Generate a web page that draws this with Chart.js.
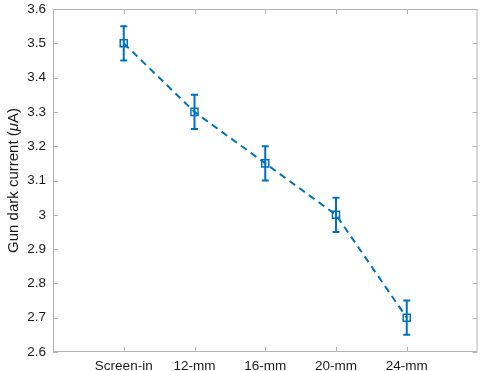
<!DOCTYPE html>
<html><head><meta charset="utf-8">
<script src="https://cdn.jsdelivr.net/npm/chart.js@4/dist/chart.umd.min.js"></script>
<style>html,body{margin:0;padding:0;background:#fff}#wrap{width:484px;height:371px}</style>
</head><body><div id="wrap"><canvas id="c" width="484" height="371"></canvas></div>
<script>
const categories = ["Screen-in", "12-mm", "16-mm", "20-mm", "24-mm"];
const currents = [3.5, 3.3, 3.15, 3.0, 2.7];
const errors = [0.05, 0.05, 0.05, 0.05, 0.05];
const yTicks = [2.6, 2.7, 2.8, 2.9, 3.0, 3.1, 3.2, 3.3, 3.4, 3.5, 3.6];
const yTitleParts = [["Gun dark current (", "normal"], ["\u03BC", "italic"], ["A)", "normal"]];

const COLOR = '#0072BD';
const FONT = '"Liberation Sans", Arial, Helvetica, sans-serif';
const TEXT = '#1a1a1a';

const points = categories.map((c, i) => ({x: i + 1, y: currents[i]}));

const framePlugin = {
  id: 'frame',
  beforeDatasetsDraw(chart) {
    const {ctx, chartArea: a, scales: {x, y}} = chart;
    ctx.save();
    ctx.strokeStyle = '#b4b4b4';
    ctx.lineWidth = 1;
    ctx.strokeRect(a.left + 0.5, a.top + 0.5, a.right - a.left - 1, a.bottom - a.top - 1);
    const L = 5;
    ctx.beginPath();
    x.ticks.forEach(t => {
      const px = Math.round(x.getPixelForValue(t.value)) + 0.5;
      ctx.moveTo(px, a.bottom); ctx.lineTo(px, a.bottom - L);
      ctx.moveTo(px, a.top); ctx.lineTo(px, a.top + L);
    });
    y.ticks.forEach(t => {
      const py = Math.round(y.getPixelForValue(t.value)) + 0.5;
      ctx.moveTo(a.left, py); ctx.lineTo(a.left + L, py);
      ctx.moveTo(a.right, py); ctx.lineTo(a.right - L, py);
    });
    ctx.stroke();
    ctx.restore();
  },
  afterDatasetsDraw(chart) {
    const {ctx, scales: {x, y}} = chart;
    ctx.save();
    ctx.strokeStyle = COLOR;
    ctx.lineWidth = 2;
    const cap = 3.5;
    points.forEach((p, i) => {
      const px = x.getPixelForValue(p.x);
      const top = y.getPixelForValue(p.y + errors[i]);
      const bot = y.getPixelForValue(p.y - errors[i]);
      ctx.beginPath();
      ctx.moveTo(px, top); ctx.lineTo(px, bot);
      ctx.moveTo(px - cap, top); ctx.lineTo(px + cap, top);
      ctx.moveTo(px - cap, bot); ctx.lineTo(px + cap, bot);
      ctx.stroke();
    });
    ctx.restore();
  },
  afterDraw(chart) {
    const {ctx, chartArea: a} = chart;
    const size = 15;
    ctx.save();
    const widths = yTitleParts.map(([t, st]) => { ctx.font = `${st} ${size}px ${FONT}`; return ctx.measureText(t).width; });
    const total = widths.reduce((s, w) => s + w, 0);
    ctx.translate(14, (a.top + a.bottom) / 2);
    ctx.rotate(-Math.PI / 2);
    ctx.fillStyle = TEXT;
    ctx.textBaseline = 'middle';
    ctx.textAlign = 'left';
    let xx = -total / 2;
    yTitleParts.forEach(([t, st], i) => { ctx.font = `${st} ${size}px ${FONT}`; ctx.fillText(t, xx, 0); xx += widths[i]; });
    ctx.restore();
  }
};

new Chart(document.getElementById('c'), {
  type: 'line',
  data: {
    datasets: [{
      data: points,
      borderColor: COLOR,
      borderWidth: 2,
      borderDash: [7, 5],
      pointStyle: 'rect',
      pointRadius: 5,
      pointBorderWidth: 1.5,
      pointBorderColor: COLOR,
      pointBackgroundColor: 'rgba(0,0,0,0)',
      fill: false,
      tension: 0
    }]
  },
  options: {
    responsive: false,
    animation: false,
    layout: {padding: {top: 9, right: 3, left: 0, bottom: 0}},
    plugins: {legend: {display: false}, tooltip: {enabled: false}},
    scales: {
      x: {
        type: 'linear', min: 0, max: 6,
        afterBuildTicks: s => { s.ticks = categories.map((c, i) => ({value: i + 1})); },
        ticks: {
          callback: v => categories[v - 1] || '',
          color: TEXT, font: {family: FONT, size: 13.5}, padding: 6, maxRotation: 0, autoSkip: false
        },
        grid: {display: false, drawTicks: false}, border: {display: false},
        afterFit: s => { s.height = 19; s.paddingLeft = 0; s.paddingRight = 0; }
      },
      y: {
        type: 'linear', min: 2.6, max: 3.6,
        afterBuildTicks: s => { s.ticks = yTicks.map(v => ({value: v})); },
        ticks: {
          callback: v => String(Math.round(v * 10) / 10),
          color: TEXT, font: {family: FONT, size: 13.5}, padding: 7
        },
        grid: {display: false, drawTicks: false}, border: {display: false},
        afterFit: s => { s.width = 53; s.paddingTop = 0; s.paddingBottom = 0; }
      }
    }
  },
  plugins: [framePlugin]
});
</script></body></html>
